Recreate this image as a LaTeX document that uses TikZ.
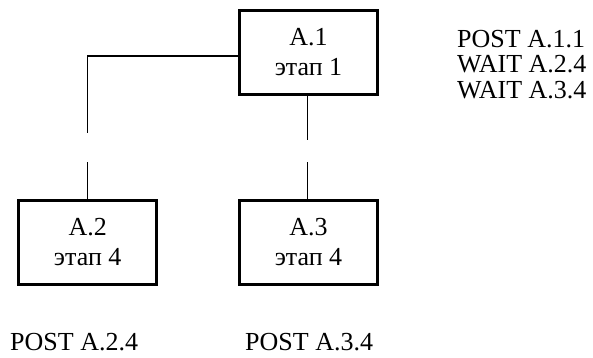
\documentclass[tikz,border=0pt]{standalone}
\usepackage{fontspec}
\setmainfont{Liberation Serif}
\begin{document}
\begin{tikzpicture}[x=1pt,y=-1pt,
  stagebox/.style={draw,line width=3.5pt,minimum width=138pt,minimum height=84pt,
    inner sep=0pt,align=center,font=\fontsize{26}{30}\selectfont},
  link/.style={line width=1.5pt},
  plain/.style={inner sep=0pt,font=\fontsize{26}{25.5}\selectfont}]
\useasboundingbox (0,0) rectangle (593,357);

% process stages
\node[stagebox] (a1) at (308.5,52.5) {A.1\\этап 1};
\node[stagebox] (a2) at (87.7,242.5) {A.2\\этап 4};
\node[stagebox] (a3) at (308.5,242.5) {A.3\\этап 4};

% broken links between the stages
\coordinate (h)  at (87.7,56);
\coordinate (l1) at (87.7,133);
\coordinate (l2) at (87.7,162);
\coordinate (r1) at (307.3,140);
\coordinate (r2) at (307.3,162);
\draw[link] (h -| a1.west) -| (l1);
\draw[link] (l2) -- (l2 |- a2.north);
\draw[link] (r1 |- a1.south) -- (r1);
\draw[link] (r2) -- (r2 |- a3.north);

% synchronisation operations
\node[plain,align=left,anchor=north west] (ops1) at (457,30)
  {POST A.1.1\\WAIT A.2.4\\WAIT A.3.4};
\node[plain,anchor=base west] (ops2) at (10,350) {POST A.2.4};
\node[plain,anchor=base west] (ops3) at (245,350) {POST A.3.4};
\end{tikzpicture}
\end{document}
